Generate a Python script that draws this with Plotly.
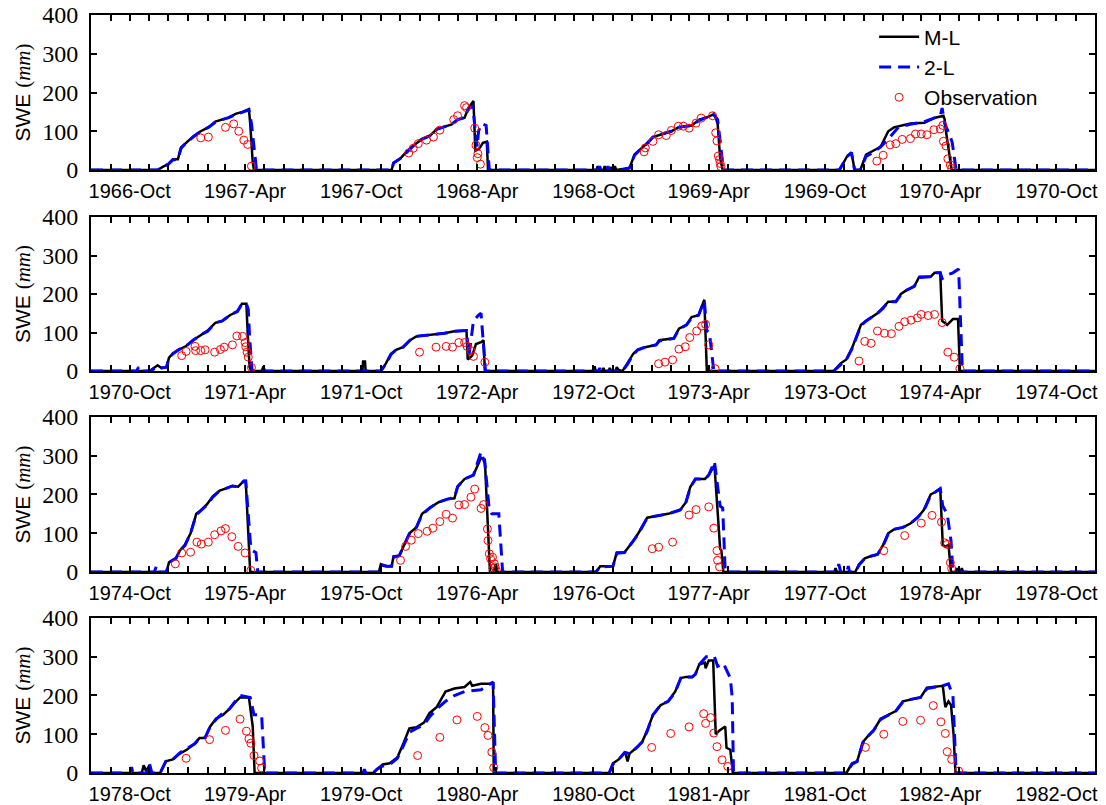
import plotly.graph_objects as go
from plotly.subplots import make_subplots

# ---------------- data: (date, SWE mm) ----------------
ML_1967 = [("1966-11-14",0),("1966-11-22",8),("1966-12-01",15),("1966-12-08",28),("1966-12-16",28),("1966-12-21",58),("1966-12-29",70),("1967-01-10",88),("1967-01-21",100),("1967-02-02",110),("1967-02-13",125),("1967-02-24",130),("1967-03-06",135),("1967-03-17",145),("1967-03-28",150),("1967-04-07",157),("1967-04-09",120),("1967-04-13",20),("1967-04-15",0)]
TL_1967 = [("1966-11-14",0),("1966-11-22",8),("1966-12-01",15),("1966-12-08",26),("1966-12-16",28),("1966-12-21",56),("1966-12-29",70),("1967-01-10",86),("1967-01-21",100),("1967-02-02",110),("1967-02-13",123),("1967-02-24",130),("1967-03-06",135),("1967-03-17",143),("1967-03-28",150),("1967-04-07",155),("1967-04-11",120),("1967-04-15",60),("1967-04-19",0)]
OBS_1967 = [("1967-01-21",83),("1967-02-02",85),("1967-03-01",110),("1967-03-14",119),("1967-03-22",100),("1967-03-30",77),("1967-04-05",66),("1967-04-11",10)]

ML_1968 = [("1967-11-18",0),("1967-11-21",18),("1967-12-02",30),("1967-12-13",50),("1967-12-24",65),("1968-01-05",80),("1968-01-17",88),("1968-01-28",105),("1968-02-09",112),("1968-02-20",117),("1968-03-01",130),("1968-03-12",135),("1968-03-18",160),("1968-03-26",178),("1968-03-29",50),("1968-04-04",55),("1968-04-10",70),("1968-04-16",73),("1968-04-18",0)]
TL_1968 = [("1967-11-18",0),("1967-11-21",18),("1967-12-02",30),("1967-12-13",48),("1967-12-24",65),("1968-01-05",80),("1968-01-17",88),("1968-01-28",105),("1968-02-09",112),("1968-02-20",117),("1968-03-01",130),("1968-03-12",135),("1968-03-18",158),("1968-03-25",165),("1968-03-29",100),("1968-04-01",60),("1968-04-03",100),("1968-04-08",120),("1968-04-15",115),("1968-04-20",0)]
OBS_1968 = [("1967-12-15",44),("1967-12-22",56),("1967-12-30",68),("1968-01-12",77),("1968-01-23",85),("1968-02-02",103),("1968-02-24",130),("1968-03-01",140),("1968-03-12",166),("1968-03-15",161),("1968-03-28",108),("1968-03-30",64),("1968-04-01",32),("1968-04-02",42),("1968-04-06",15)]

ML_1969 = [("1968-10-06",0),("1968-10-08",10),("1968-10-10",0),("1968-10-17",0),("1968-10-19",10),("1968-10-21",0),("1968-10-27",0),("1968-10-29",8),("1968-10-31",0),("1968-11-02",0),("1968-11-04",10),("1968-11-06",0),("1968-11-15",2),("1968-11-27",5),("1968-12-05",40),("1968-12-11",48),("1968-12-22",65),("1969-01-03",85),("1969-01-15",92),("1969-02-01",100),("1969-02-12",110),("1969-03-05",115),("1969-03-17",130),("1969-03-28",135),("1969-04-08",143),("1969-04-11",140),("1969-04-15",120),("1969-04-19",30),("1969-04-23",0)]
TL_1969 = [("1968-10-09",0),("1968-10-11",10),("1968-10-13",0),("1968-10-22",0),("1968-10-24",10),("1968-10-26",0),("1968-11-15",0),("1968-11-27",5),("1968-12-05",38),("1968-12-11",48),("1968-12-22",63),("1969-01-03",85),("1969-01-15",92),("1969-02-01",100),("1969-02-12",110),("1969-03-05",115),("1969-03-17",128),("1969-03-28",135),("1969-04-08",145),("1969-04-15",130),("1969-04-20",60),("1969-04-24",0)]
OBS_1969 = [("1968-12-20",47),("1968-12-22",57),("1969-01-03",74),("1969-01-12",91),("1969-01-24",89),("1969-02-01",102),("1969-02-12",113),("1969-02-20",113),("1969-03-01",108),("1969-03-12",121),("1969-03-20",134),("1969-04-07",140),("1969-04-12",96),("1969-04-14",75),("1969-04-16",36),("1969-04-18",27),("1969-04-19",17),("1969-04-20",9)]

ML_1970 = [("1969-10-24",0),("1969-11-05",35),("1969-11-12",45),("1969-11-17",0),("1969-11-26",0),("1969-12-05",40),("1969-12-16",50),("1969-12-28",60),("1970-01-09",100),("1970-01-18",110),("1970-02-13",120),("1970-03-07",122),("1970-03-24",135),("1970-04-01",137),("1970-04-06",140),("1970-04-08",130),("1970-04-10",100),("1970-04-19",0)]
TL_1970 = [("1969-10-24",0),("1969-11-05",35),("1969-11-12",45),("1969-11-17",0),("1969-11-26",0),("1969-12-05",35),("1969-12-16",45),("1969-12-28",60),("1970-01-09",80),("1970-01-25",110),("1970-02-13",118),("1970-03-07",125),("1970-03-24",135),("1970-04-01",140),("1970-04-04",160),("1970-04-08",120),("1970-04-16",90),("1970-04-20",70),("1970-04-26",0)]
OBS_1970 = [("1969-12-22",23),("1970-01-01",38),("1970-01-12",65),("1970-01-21",68),("1970-01-31",79),("1970-02-13",81),("1970-02-21",93),("1970-03-02",93),("1970-03-11",91),("1970-03-22",104),("1970-04-01",106),("1970-04-05",115),("1970-04-06",74),("1970-04-10",62),("1970-04-13",29),("1970-04-17",13),("1970-04-19",4)]

ML_1971 = [("1970-10-30",0),("1970-11-03",2),("1970-11-14",15),("1970-11-20",8),("1970-11-28",10),("1970-12-02",35),("1970-12-08",45),("1970-12-17",55),("1970-12-29",65),("1971-01-09",80),("1971-01-22",95),("1971-02-01",105),("1971-02-13",125),("1971-02-24",130),("1971-03-08",145),("1971-03-20",155),("1971-03-27",175),("1971-04-03",175),("1971-04-05",100),("1971-04-08",10),("1971-04-11",0),("1971-04-27",0),("1971-04-30",12),("1971-05-02",0)]
TL_1971 = [("1970-10-12",0),("1970-10-15",10),("1970-10-18",0),("1970-11-03",0),("1970-11-14",12),("1970-11-20",8),("1970-11-28",10),("1970-12-02",33),("1970-12-08",45),("1970-12-17",55),("1970-12-29",65),("1971-01-09",80),("1971-01-22",95),("1971-02-01",103),("1971-02-13",125),("1971-02-24",130),("1971-03-08",145),("1971-03-20",155),("1971-03-27",175),("1971-04-03",175),("1971-04-06",160),("1971-04-08",90),("1971-04-10",40),("1971-04-12",0)]
OBS_1971 = [("1970-12-22",40),("1970-12-29",51),("1971-01-12",64),("1971-01-13",53),("1971-01-21",53),("1971-01-28",55),("1971-02-12",49),("1971-02-21",56),("1971-02-27",62),("1971-03-12",68),("1971-03-19",91),("1971-03-28",90),("1971-04-01",74),("1971-04-02",63),("1971-04-04",49),("1971-04-06",36),("1971-04-11",9)]

ML_1972 = [("1971-10-03",0),("1971-10-04",25),("1971-10-07",25),("1971-10-08",0),("1971-11-01",0),("1971-11-09",20),("1971-11-17",45),("1971-11-25",55),("1971-12-06",62),("1971-12-17",80),("1971-12-27",90),("1972-01-17",93),("1972-02-09",98),("1972-02-25",103),("1972-03-15",105),("1972-03-17",30),("1972-03-24",40),("1972-03-30",70),("1972-04-07",75),("1972-04-11",80),("1972-04-13",0)]
TL_1972 = [("1971-11-01",0),("1971-11-09",18),("1971-11-17",43),("1971-11-25",55),("1971-12-06",62),("1971-12-17",80),("1971-12-27",90),("1972-01-17",93),("1972-02-09",98),("1972-02-25",103),("1972-03-15",105),("1972-03-19",40),("1972-03-26",130),("1972-04-03",145),("1972-04-07",150),("1972-04-14",0)]
OBS_1972 = [("1972-01-01",49),("1972-01-27",62),("1972-02-12",64),("1972-02-22",62),("1972-03-03",74),("1972-03-12",74),("1972-03-16",64),("1972-03-22",53),("1972-03-26",38),("1972-04-13",23)]

ML_1973 = [("1972-10-01",0),("1972-10-03",12),("1972-10-05",0),("1972-10-15",0),("1972-10-17",8),("1972-10-19",0),("1972-10-25",0),("1972-10-27",8),("1972-10-29",0),("1972-11-05",0),("1972-11-07",10),("1972-11-10",3),("1972-11-16",0),("1972-11-24",20),("1972-12-03",45),("1972-12-10",55),("1972-12-22",62),("1973-01-08",68),("1973-01-13",80),("1973-02-05",85),("1973-02-13",110),("1973-02-25",120),("1973-03-05",140),("1973-03-16",145),("1973-03-25",185),("1973-03-29",0)]
TL_1973 = [("1972-10-09",0),("1972-10-11",8),("1972-10-13",0),("1972-11-16",0),("1972-11-24",18),("1972-12-03",43),("1972-12-10",55),("1972-12-22",62),("1973-01-08",68),("1973-01-13",78),("1973-02-05",85),("1973-02-13",108),("1973-02-25",120),("1973-03-05",138),("1973-03-16",145),("1973-03-25",183),("1973-03-29",105),("1973-04-02",100),("1973-04-05",60),("1973-04-09",0)]
OBS_1973 = [("1973-01-12",19),("1973-01-22",23),("1973-02-03",29),("1973-02-13",57),("1973-02-23",63),("1973-03-02",87),("1973-03-13",104),("1973-03-21",117),("1973-03-27",121),("1973-04-01",68),("1973-04-11",6)]

ML_1974 = [("1973-10-15",0),("1973-10-26",20),("1973-11-04",30),("1973-11-13",60),("1973-11-27",120),("1973-12-05",130),("1973-12-23",150),("1974-01-01",165),("1974-01-09",180),("1974-01-21",180),("1974-01-29",200),("1974-02-07",210),("1974-02-19",220),("1974-02-27",245),("1974-03-17",245),("1974-03-23",255),("1974-04-01",255),("1974-04-04",130),("1974-04-12",120),("1974-04-21",135),("1974-04-29",135),("1974-05-02",0)]
TL_1974 = [("1973-10-15",0),("1973-10-26",18),("1973-11-04",30),("1973-11-13",58),("1973-11-27",118),("1973-12-05",130),("1973-12-23",150),("1974-01-01",163),("1974-01-09",180),("1974-01-21",180),("1974-01-29",198),("1974-02-07",210),("1974-02-19",220),("1974-02-27",243),("1974-03-17",245),("1974-03-23",255),("1974-04-01",255),("1974-04-04",240),("1974-04-12",250),("1974-04-21",255),("1974-04-30",265),("1974-05-03",130),("1974-05-06",0)]
OBS_1974 = [("1973-11-24",26),("1973-12-03",77),("1973-12-13",72),("1973-12-23",104),("1974-01-03",98),("1974-01-14",97),("1974-01-26",116),("1974-02-04",128),("1974-02-14",132),("1974-02-24",138),("1974-03-02",147),("1974-03-13",144),("1974-03-23",147),("1974-04-04",126),("1974-04-13",49),("1974-04-23",36),("1974-05-02",6)]

ML_1975 = [("1974-11-28",0),("1974-12-02",25),("1974-12-13",35),("1974-12-19",55),("1974-12-27",70),("1975-01-05",100),("1975-01-14",150),("1975-01-22",160),("1975-01-31",175),("1975-02-09",195),("1975-02-20",210),("1975-03-01",215),("1975-03-12",222),("1975-03-21",220),("1975-03-30",235),("1975-04-02",235),("1975-04-09",0)]
TL_1975 = [("1974-11-09",0),("1974-11-12",15),("1974-11-15",0),("1974-11-28",0),("1974-12-02",25),("1974-12-13",35),("1974-12-19",55),("1974-12-27",68),("1975-01-05",100),("1975-01-14",148),("1975-01-22",160),("1975-01-31",173),("1975-02-09",193),("1975-02-20",210),("1975-03-01",215),("1975-03-12",222),("1975-03-21",220),("1975-03-30",235),("1975-04-02",235),("1975-04-10",60),("1975-04-13",55),("1975-04-18",50),("1975-04-21",0)]
OBS_1975 = [("1974-12-12",21),("1974-12-22",49),("1975-01-05",51),("1975-01-15",77),("1975-01-22",72),("1975-02-02",77),("1975-02-12",96),("1975-02-22",106),("1975-03-01",112),("1975-03-11",91),("1975-03-21",66),("1975-04-01",49),("1975-04-10",4)]

ML_1976 = [("1975-10-29",0),("1975-11-01",20),("1975-11-10",15),("1975-11-18",15),("1975-11-21",40),("1975-11-30",42),("1975-12-08",70),("1975-12-16",100),("1975-12-27",115),("1976-01-05",150),("1976-01-17",165),("1976-01-31",180),("1976-02-14",188),("1976-02-25",190),("1976-03-01",220),("1976-03-12",240),("1976-03-26",250),("1976-04-07",295),("1976-04-13",290),("1976-04-18",100),("1976-04-21",0),("1976-04-27",0),("1976-04-30",20),("1976-05-03",0)]
TL_1976 = [("1975-10-29",0),("1975-11-01",18),("1975-11-10",15),("1975-11-18",15),("1975-11-21",38),("1975-11-30",42),("1975-12-08",70),("1975-12-16",98),("1975-12-27",115),("1976-01-05",148),("1976-01-17",165),("1976-01-31",180),("1976-02-14",188),("1976-02-25",192),("1976-03-01",220),("1976-03-12",240),("1976-03-26",250),("1976-04-07",310),("1976-04-13",280),("1976-04-20",160),("1976-04-24",150),("1976-05-05",150),("1976-05-11",0)]
OBS_1976 = [("1975-12-02",30),("1975-12-10",66),("1975-12-19",82),("1975-12-30",99),("1976-01-13",105),("1976-01-22",113),("1976-02-02",130),("1976-02-12",149),("1976-02-22",139),("1976-03-03",173),("1976-03-12",174),("1976-03-22",193),("1976-03-28",214),("1976-04-07",164),("1976-04-11",174),("1976-04-17",111),("1976-04-18",81),("1976-04-20",47),("1976-04-22",34),("1976-04-25",38),("1976-04-26",9),("1976-04-28",21),("1976-04-29",13),("1976-05-01",4)]

ML_1977 = [("1976-10-05",0),("1976-10-12",15),("1976-11-01",15),("1976-11-07",50),("1976-11-19",50),("1976-12-03",80),("1976-12-11",100),("1976-12-25",140),("1977-01-09",145),("1977-01-27",150),("1977-02-15",160),("1977-02-24",180),("1977-03-03",220),("1977-03-11",240),("1977-03-26",240),("1977-04-01",250),("1977-04-10",275),("1977-04-19",60),("1977-04-21",55),("1977-04-24",0)]
TL_1977 = [("1976-10-05",0),("1976-10-12",13),("1976-11-01",15),("1976-11-07",48),("1976-11-19",50),("1976-12-03",80),("1976-12-11",98),("1976-12-25",140),("1977-01-09",145),("1977-01-27",150),("1977-02-15",160),("1977-02-24",180),("1977-03-03",218),("1977-03-11",240),("1977-03-26",240),("1977-04-01",250),("1977-04-10",285),("1977-04-19",170),("1977-04-23",165),("1977-04-27",0)]
OBS_1977 = [("1977-01-02",60),("1977-01-12",64),("1977-02-03",77),("1977-03-01",147),("1977-03-12",161),("1977-04-01",168),("1977-04-09",113),("1977-04-14",55),("1977-04-15",30),("1977-04-18",13)]

ML_1978 = [("1977-10-16",0),("1977-10-18",10),("1977-10-20",0),("1977-11-18",0),("1977-11-24",20),("1977-12-03",35),("1977-12-11",40),("1977-12-23",45),("1978-01-01",70),("1978-01-09",100),("1978-01-18",110),("1978-02-01",115),("1978-02-13",125),("1978-02-24",140),("1978-03-06",160),("1978-03-17",200),("1978-03-23",205),("1978-04-01",215),("1978-04-05",70),("1978-04-09",65),("1978-04-14",70),("1978-04-18",0),("1978-04-25",0),("1978-04-27",10),("1978-04-29",0),("1978-05-03",0),("1978-05-05",10),("1978-05-07",0)]
TL_1978 = [("1977-10-20",0),("1977-10-23",20),("1977-10-26",0),("1977-11-05",0),("1977-11-07",15),("1977-11-09",0),("1977-11-18",0),("1977-11-24",18),("1977-12-03",35),("1977-12-11",40),("1977-12-23",45),("1978-01-01",68),("1978-01-09",98),("1978-01-18",110),("1978-02-01",115),("1978-02-13",125),("1978-02-24",140),("1978-03-06",158),("1978-03-17",198),("1978-03-23",205),("1978-04-01",215),("1978-04-05",170),("1978-04-12",150),("1978-04-18",80),("1978-04-21",0)]
OBS_1978 = [("1978-01-02",55),("1978-02-04",94),("1978-03-02",126),("1978-03-19",146),("1978-04-03",129),("1978-04-08",75),("1978-04-12",71),("1978-04-17",24),("1978-04-19",9)]

ML_1979 = [("1978-10-20",0),("1978-10-23",20),("1978-10-27",5),("1978-11-01",20),("1978-11-04",0),("1978-11-18",0),("1978-11-27",30),("1978-12-08",35),("1978-12-19",50),("1978-12-30",60),("1979-01-11",75),("1979-01-19",90),("1979-01-28",90),("1979-02-05",120),("1979-02-14",140),("1979-02-25",150),("1979-03-07",165),("1979-03-15",180),("1979-03-24",195),("1979-04-07",195),("1979-04-13",120),("1979-04-16",0)]
TL_1979 = [("1978-10-02",0),("1978-10-04",15),("1978-10-06",0),("1978-10-28",0),("1978-11-01",25),("1978-11-05",0),("1978-11-18",0),("1978-11-27",30),("1978-12-08",35),("1978-12-19",52),("1978-12-30",62),("1979-01-11",75),("1979-01-19",88),("1979-01-28",92),("1979-02-05",120),("1979-02-14",138),("1979-02-25",155),("1979-03-07",165),("1979-03-15",182),("1979-03-24",200),("1979-04-09",195),("1979-04-15",150),("1979-04-27",150),("1979-05-02",0)]
OBS_1979 = [("1978-12-29",38),("1979-02-04",86),("1979-03-01",110),("1979-03-24",139),("1979-04-03",108),("1979-04-07",88),("1979-04-10",77),("1979-04-15",45),("1979-04-24",31),("1979-04-27",13)]

ML_1980 = [("1979-10-20",0),("1979-10-26",10),("1979-11-04",22),("1979-11-15",25),("1979-11-27",40),("1979-12-05",70),("1979-12-16",115),("1979-12-27",118),("1980-01-08",130),("1980-01-17",155),("1980-01-28",170),("1980-02-11",210),("1980-02-25",218),("1980-03-12",222),("1980-03-21",235),("1980-03-24",225),("1980-04-07",230),("1980-04-26",230),("1980-04-27",0)]
TL_1980 = [("1979-10-04",0),("1979-10-06",10),("1979-10-08",0),("1979-10-20",0),("1979-10-26",10),("1979-11-04",18),("1979-11-15",22),("1979-11-27",38),("1979-12-05",65),("1979-12-16",105),("1979-12-27",115),("1980-01-08",125),("1980-01-17",145),("1980-01-28",165),("1980-02-11",185),("1980-02-25",200),("1980-03-12",210),("1980-04-07",215),("1980-04-26",235),("1980-04-30",0)]
OBS_1980 = [("1979-12-29",45),("1980-02-02",92),("1980-02-29",137),("1980-04-01",146),("1980-04-13",117),("1980-04-18",97),("1980-04-24",54),("1980-04-27",14)]

ML_1981 = [("1980-10-26",0),("1980-11-01",25),("1980-11-10",35),("1980-11-20",55),("1980-11-24",30),("1980-11-27",50),("1980-12-08",65),("1980-12-17",80),("1980-12-25",110),("1981-01-03",150),("1981-01-15",175),("1981-01-27",185),("1981-02-07",210),("1981-02-16",245),("1981-02-24",248),("1981-03-06",248),("1981-03-11",255),("1981-03-17",280),("1981-03-26",285),("1981-03-27",270),("1981-04-01",290),("1981-04-08",290),("1981-04-12",100),("1981-04-18",110),("1981-04-27",120),("1981-04-29",65),("1981-05-05",60),("1981-05-09",0)]
TL_1981 = [("1980-10-26",0),("1980-11-01",23),("1980-11-10",35),("1980-11-20",53),("1980-11-27",50),("1980-12-08",65),("1980-12-17",80),("1980-12-25",108),("1981-01-03",150),("1981-01-15",175),("1981-01-27",185),("1981-02-07",208),("1981-02-16",245),("1981-02-24",248),("1981-03-06",248),("1981-03-11",255),("1981-03-17",280),("1981-03-28",300),("1981-04-10",300),("1981-04-15",275),("1981-04-24",283),("1981-05-05",245),("1981-05-08",195),("1981-05-10",0)]
OBS_1981 = [("1981-01-01",66),("1981-01-31",102),("1981-03-01",119),("1981-03-24",153),("1981-03-27",128),("1981-04-04",143),("1981-04-09",103),("1981-04-14",68),("1981-04-22",34),("1981-05-01",17)]

ML_1982 = [("1981-11-04",0),("1981-11-13",25),("1981-11-21",30),("1981-11-30",80),("1981-12-08",95),("1981-12-17",110),("1981-12-28",140),("1982-01-09",150),("1982-01-21",160),("1982-02-01",185),("1982-02-13",190),("1982-03-01",195),("1982-03-11",220),("1982-03-26",222),("1982-04-05",225),("1982-04-09",170),("1982-04-14",185),("1982-04-18",175),("1982-04-22",100),("1982-04-25",0)]
TL_1982 = [("1981-11-04",0),("1981-11-13",23),("1981-11-21",30),("1981-11-30",78),("1981-12-08",95),("1981-12-17",110),("1981-12-28",138),("1982-01-09",150),("1982-01-21",160),("1982-02-01",183),("1982-02-13",190),("1982-03-01",195),("1982-03-11",218),("1982-03-26",222),("1982-04-05",225),("1982-04-14",230),("1982-04-21",200),("1982-04-26",0)]
OBS_1982 = [("1981-12-04",66),("1982-01-02",100),("1982-02-01",133),("1982-03-01",136),("1982-03-21",174),("1982-04-02",132),("1982-04-09",102),("1982-04-12",55),("1982-04-19",35),("1982-04-30",5)]

ML_SEASONS = [ML_1967, ML_1968, ML_1969, ML_1970, ML_1971, ML_1972, ML_1973, ML_1974,
              ML_1975, ML_1976, ML_1977, ML_1978, ML_1979, ML_1980, ML_1981, ML_1982]
TL_SEASONS = [TL_1967, TL_1968, TL_1969, TL_1970, TL_1971, TL_1972, TL_1973, TL_1974,
              TL_1975, TL_1976, TL_1977, TL_1978, TL_1979, TL_1980, TL_1981, TL_1982]
OBS_SEASONS = [OBS_1967, OBS_1968, OBS_1969, OBS_1970, OBS_1971, OBS_1972, OBS_1973, OBS_1974,
               OBS_1975, OBS_1976, OBS_1977, OBS_1978, OBS_1979, OBS_1980, OBS_1981, OBS_1982]

PANEL_RANGES = [("1966-08-01", "1970-12-01"), ("1970-08-01", "1974-12-01"),
                ("1974-08-01", "1978-12-01"), ("1978-08-01", "1982-12-01")]
SEASONS_PER_PANEL = 4


def flatten(seasons, start=None, end=None):
    xs, ys = [], []
    if start is not None:
        xs.append(start); ys.append(0)
    for s in seasons:
        for d, v in s:
            xs.append(d); ys.append(v)
    if end is not None:
        xs.append(end); ys.append(0)
    return xs, ys


fig = make_subplots(rows=4, cols=1)

for i in range(4):
    r = i + 1
    first = (i == 0)
    r0, r1 = PANEL_RANGES[i]
    sl = slice(i * SEASONS_PER_PANEL, (i + 1) * SEASONS_PER_PANEL)
    ml_x, ml_y = flatten(ML_SEASONS[sl], r0, r1)
    tl_x, tl_y = flatten(TL_SEASONS[sl], r0, r1)
    ob_x, ob_y = flatten(OBS_SEASONS[sl])
    fig.add_trace(go.Scatter(x=ml_x, y=ml_y, mode="lines", name="M-L",
                             line=dict(color="black", width=2.5),
                             showlegend=first, legendrank=1), row=r, col=1)
    fig.add_trace(go.Scatter(x=tl_x, y=tl_y, mode="lines", name="2-L",
                             line=dict(color="#0000ff", width=3, dash="12px,7px"),
                             showlegend=first, legendrank=2), row=r, col=1)
    fig.add_trace(go.Scatter(x=ob_x, y=ob_y, mode="markers", name="Observation",
                             marker=dict(symbol="circle-open", color="#ff0000", size=8,
                                         line=dict(width=1, color="#ff0000")),
                             showlegend=first, legendrank=3), row=r, col=1)

domains = [[0.7955, 1.0], [0.5303, 0.7335], [0.2652, 0.4697], [0.0, 0.2045]]
tick_font = dict(family="Liberation Sans, Arial, sans-serif", size=20, color="black")
ytick_font = dict(family="Liberation Serif, Times New Roman, serif", size=24, color="black")

for i in range(4):
    r0, r1 = PANEL_RANGES[i]
    t0 = r0[:4] + "-10-01"
    xkey = "xaxis" if i == 0 else f"xaxis{i+1}"
    ykey = "yaxis" if i == 0 else f"yaxis{i+1}"
    fig.layout[xkey].update(
        type="date", range=[r0, r1], tick0=t0, dtick="M6", tickformat="%Y-%b",
        ticks="inside", ticklen=6, tickwidth=1.5, tickcolor="black",
        showline=True, linewidth=2, linecolor="black", mirror="ticks",
        showgrid=False, zeroline=False, tickfont=tick_font, ticklabelstandoff=2,
        automargin=False, ticklabeloverflow="allow",
        minor=dict(dtick="M1", tick0=t0, ticks="inside", ticklen=6, tickwidth=1.5,
                   tickcolor="black", showgrid=False),
    )
    fig.layout[ykey].update(
        domain=domains[i], range=[0, 400], tick0=0, dtick=100,
        ticks="inside", ticklen=6, tickwidth=1.5, tickcolor="black",
        showline=True, linewidth=2, linecolor="black", mirror="ticks",
        showgrid=False, zeroline=False, tickfont=ytick_font, ticklabelstandoff=6,
        automargin=False, ticklabeloverflow="allow",
        title=dict(text='SWE <span style="font-family:Liberation Serif">(<i>mm</i>)</span>',
                   font=dict(family="Liberation Sans, Arial, sans-serif", size=21, color="black"),
                   standoff=6),
    )

fig.update_layout(
    width=1106, height=805,
    margin=dict(l=91, r=11, t=15, b=32, autoexpand=False),
    plot_bgcolor="white", paper_bgcolor="white",
    showlegend=True,
    legend=dict(x=0.78, y=0.998, xanchor="left", yanchor="top",
                bgcolor="rgba(0,0,0,0)", borderwidth=0,
                font=dict(family="Liberation Sans, Arial, sans-serif", size=21, color="black"),
                tracegroupgap=0, itemwidth=40),
)

# remove the default 8px page margin so the figure fills the window exactly
fig.write_html("out.html", config={"displayModeBar": False},
               post_script="document.body.style.margin='0';document.body.style.overflow='hidden';")
